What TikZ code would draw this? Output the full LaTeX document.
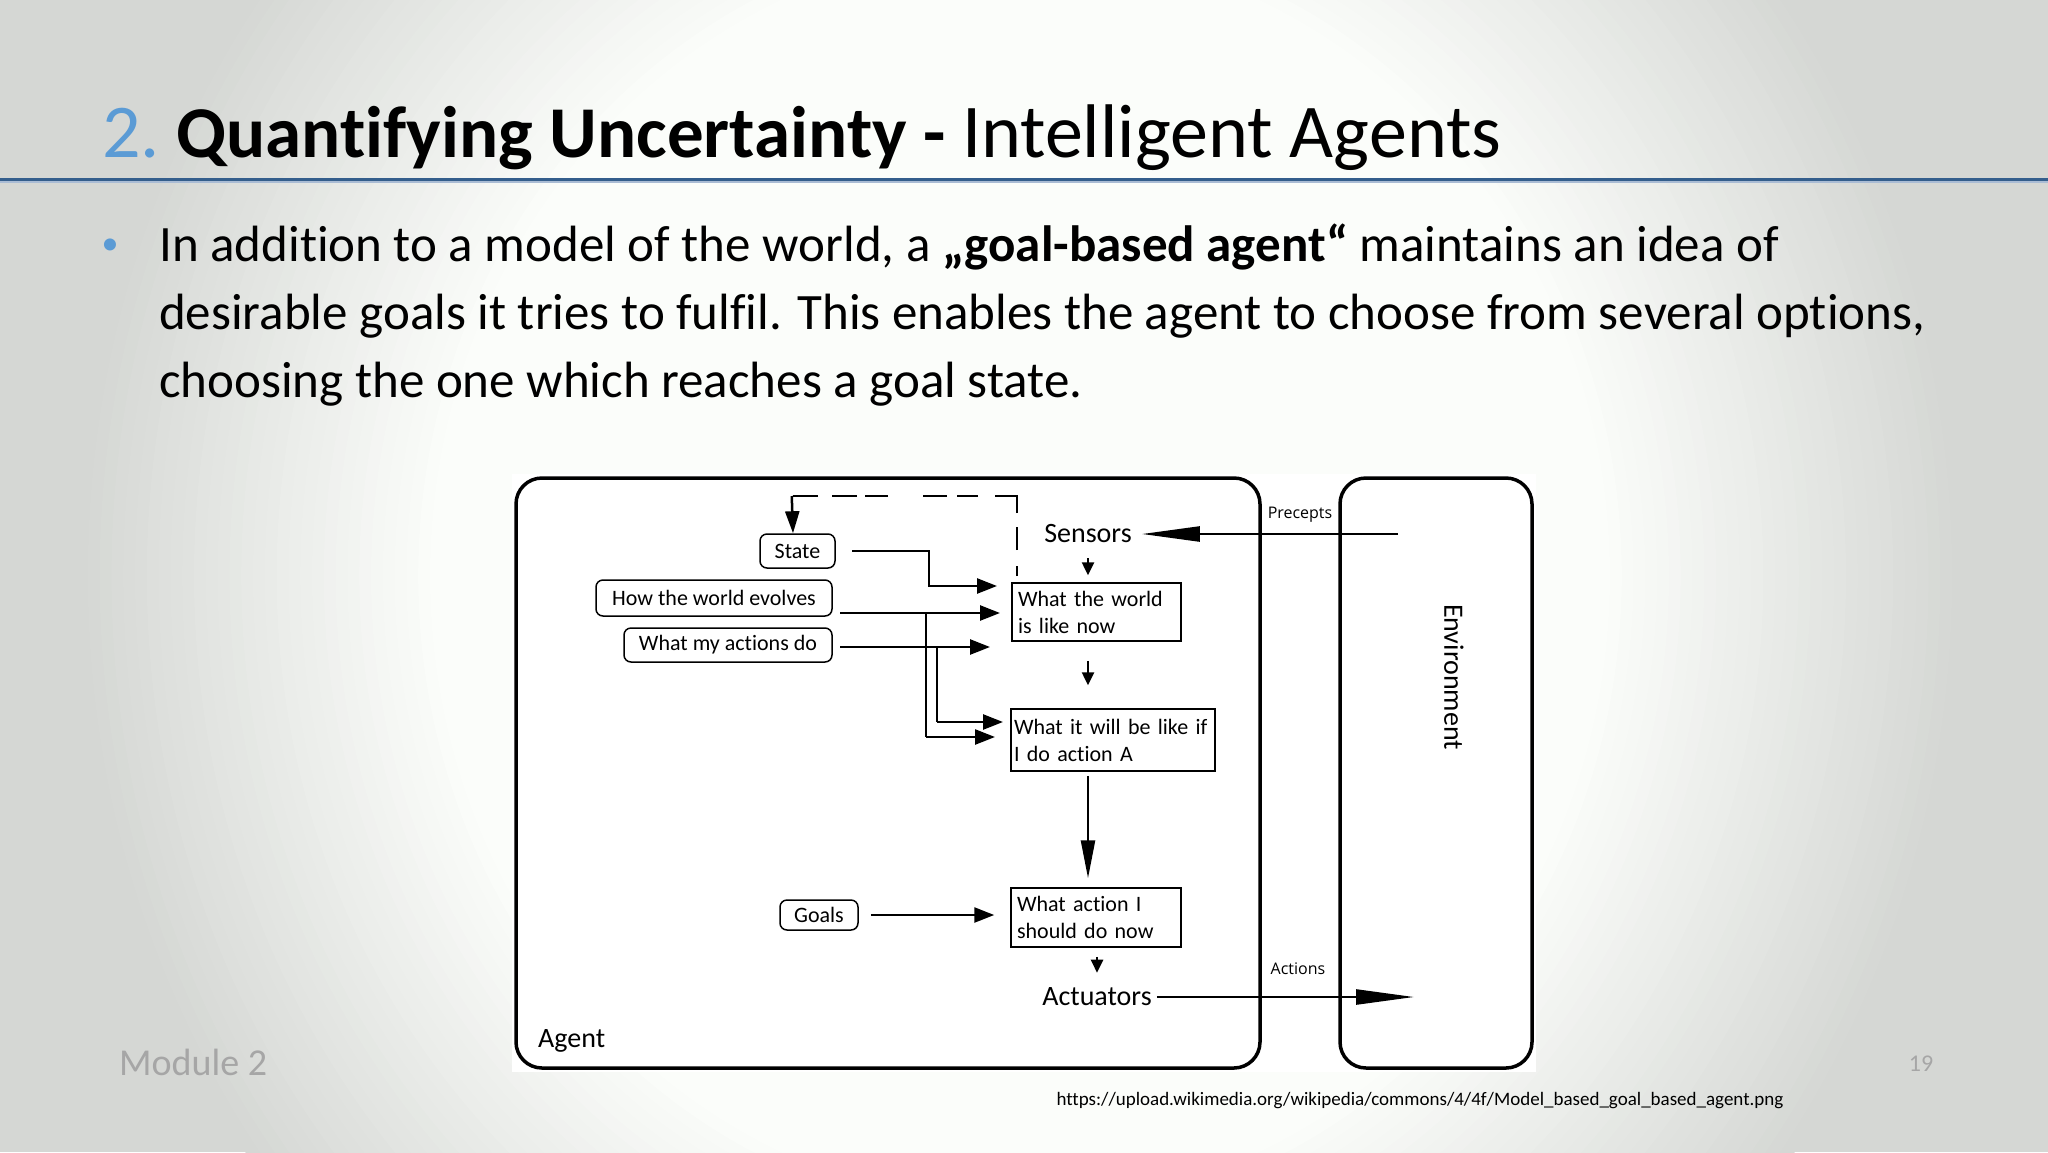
\documentclass[tikz,border=0pt]{standalone}
\usepackage{fontspec}
\setmainfont{Carlito}[Ligatures=NoCommon]
\newfontfamily\smallfont{Open Sans}
\usetikzlibrary{arrows.meta}
\definecolor{titleblue}{RGB}{91,155,213}
\definecolor{ruleblue}{RGB}{52,94,140}
\definecolor{rulelight}{RGB}{170,188,212}
\definecolor{footgray}{RGB}{166,166,166}
\definecolor{bgedge}{RGB}{213,215,212}
\definecolor{bgwhite}{RGB}{251,253,250}
\tikzset{
  fs/.style={font=\fontsize{#1}{#1}\selectfont},
  sqbox/.style={draw, line width=1.5pt, fill=white, align=left, inner sep=0pt,
    font=\fontsize{22}{27}\selectfont},
  rbox/.style={draw, line width=1.5pt, rounded corners=7pt, fill=white, inner sep=0pt,
    font=\fontsize{22}{22}\selectfont},
  bigbox/.style={draw, line width=3.5pt, rounded corners=26pt},
  arr/.style={line width=2.5pt, -{Triangle[length=20pt,width=15pt]}},
  sarr/.style={line width=2.5pt, -{Triangle[length=13pt,width=12pt]}},
  longarr/.style={line width=2.5pt, -{Triangle[length=58pt,width=15pt]}},
  plain/.style={line width=2.5pt},
  dlabel/.style={font=\fontsize{28}{28}\selectfont},
  slabel/.style={font=\smallfont\fontsize{16}{16}\selectfont}
}
\begin{document}
\begin{tikzpicture}[x=1pt,y=-1pt]
\useasboundingbox (0,0) rectangle (2048,1152);
\begin{scope}
\clip (0,0) rectangle (2048,1152);
\fill[bgedge] (0,0) rectangle (2048,1152);
\foreach \i in {0,...,30} {
  \pgfmathsetmacro\s{1.6-0.6*\i/30}
  \pgfmathsetmacro\m{100*\i/30}
  \fill[bgwhite!\m!bgedge] (1020,576) ellipse [x radius={590*\s}, y radius={630*\s}];
}
\end{scope}
% title
\node[anchor=base west, inner sep=0pt] (title) at (102,157)
  {\fontsize{76}{90}\selectfont\textcolor{titleblue}{2.}\fontsize{73}{90}\selectfont\ \textbf{Quantifying Uncertainty -} \fontsize{76}{90}\selectfont Intelligent Agents};
\fill[ruleblue] (0,177.5) rectangle (2048,180.5);
\fill[rulelight] (0,181) rectangle (2048,183);
% bullet text
\node[anchor=base, fs=34, text=titleblue, inner sep=0pt] (bul) at (110,254) {•};
\node[anchor=base west, fs=51, inner sep=0pt] (l1) at (159,261)
  {In addition to a model of the world, a \textbf{„goal-based agent“} maintains an idea of};
\node[anchor=base west, fs=51, inner sep=0pt] (l2) at (159,329)
  {desirable goals it tries to fulfil. This enables the agent to choose from several options,};
\node[anchor=base west, fs=51, inner sep=0pt] (l3) at (159,397)
  {choosing the one which reaches a goal state.};
% footer
\node[anchor=west, fs=38, text=footgray, inner sep=0pt] (mod) at (119,1062) {Module 2};
\node[fs=24, text=footgray, inner sep=0pt] (pg) at (1921,1064) {19};
\node[fs=19, inner sep=0pt] (url) at (1420,1101)
  {https://upload.wikimedia.org/wikipedia/commons/4/4f/Model\_based\_goal\_based\_agent.png};
% diagram background
\fill[white] (512,474) rectangle (1536,1072);
% big boxes
\draw[bigbox] (516,478) rectangle (1260,1068);
\draw[bigbox] (1340,478) rectangle (1532,1068);
\node[dlabel, rotate=-90] (env) at (1454,677) {Environment};
\node[dlabel, anchor=west, inner sep=0pt] (agent) at (538,1041) {Agent};
\node[slabel] (prec) at (1300,515) {Precepts};
\node[slabel] (act) at (1298,969) {Actions};
% inner labels
\node[dlabel, inner sep=0pt] (sens) at (1088,534) {Sensors};
\node[dlabel, inner sep=0pt] (actu) at (1097,997) {Actuators};
% square boxes
\node[sqbox, minimum width=169pt, minimum height=58pt, text width=157pt] (b1) at (1096.5,612)
  {What the world\\is like now};
\node[sqbox, minimum width=204pt, minimum height=62pt, text width=198pt] (b2) at (1113,740)
  {What it will be like if\\I do action A};
\node[sqbox, minimum width=170pt, minimum height=59pt, text width=158pt] (b3) at (1096,917.5)
  {What action I\\should do now};
% rounded boxes
\node[rbox, minimum width=75pt, minimum height=34pt] (st) at (797.5,551) {State};
\node[rbox, minimum width=236pt, minimum height=36pt] (ev) at (714,598) {How the world evolves};
\node[rbox, minimum width=208pt, minimum height=34pt] (ad) at (728,645) {What my actions do};
\node[rbox, minimum width=78pt, minimum height=30pt] (gl) at (819,915) {Goals};
% coordinates
\coordinate (penv) at (1398,534);
\coordinate (aenv) at (1414,997);
\coordinate (st1) at (852,551);
\coordinate (st2) at (929,551);
\coordinate (st3) at (929,586);
\coordinate (st4) at (997,586);
\coordinate (ev1) at (840,613);
\coordinate (ev2) at (1000,613);
\coordinate (evj) at (926,613);
\coordinate (evk) at (926,737);
\coordinate (ev3) at (995,737);
\coordinate (ad1) at (840,647);
\coordinate (ad2) at (990,647);
\coordinate (adj) at (937,647);
\coordinate (adk) at (937,722);
\coordinate (ad3) at (1003,722);
\coordinate (d1) at (1017,576);
\coordinate (d2) at (1017,496);
\coordinate (d3) at (793,496);
% connectors
\draw[longarr, shorten >=10pt] (penv) -- (sens.east);
\draw[plain, shorten <=5pt] (actu.east) -- ([xshift=-56pt]aenv);
\draw[longarr] ([xshift=-60pt]aenv) -- (aenv);
\draw[sarr] ([yshift=-15pt]sens.south) -- ([yshift=7pt]sens.south |- b1.north);
\draw[sarr] ([yshift=-19pt]sens.south |- b1.south) -- ([yshift=23pt]sens.south |- b2.north);
\draw[line width=2.5pt, -{Triangle[length=38pt,width=14pt]}] ([yshift=-4pt]sens.south |- b2.south) -- ([yshift=9pt]sens.south |- b3.north);
\draw[sarr] ([yshift=-9pt]actu.north |- b3.south) -- ([yshift=15pt]actu.north);
\draw[arr] (st1) -- (st2) -- (st3) -- (st4);
\draw[arr] (ev1) -- (ev2);
\draw[plain] (evj) -- (evk);
\draw[arr] (evk) -- (ev3);
\draw[arr] (ad1) -- (ad2);
\draw[plain] (adj) -- (adk);
\draw[arr] (adk) -- (ad3);
\draw[arr] ([xshift=12pt]gl.east) -- ([xshift=-16pt]b3.west|-gl.east);
\draw[line width=2.5pt, line join=miter,
  dash pattern=on 10pt off 16pt on 23pt off 14pt on 39pt off 17pt on 21pt off 10pt on 24pt off 35pt on 23pt off 8pt on 25pt off 14pt on 30pt off 1000pt]
  (d1) -- (d2) -- (d3);
\draw[line width=2.5pt, -{Triangle[length=22pt,width=14pt]}] ([xshift=-1.25pt]d3) -- (d3 |- st.north);
\end{tikzpicture}
\end{document}
